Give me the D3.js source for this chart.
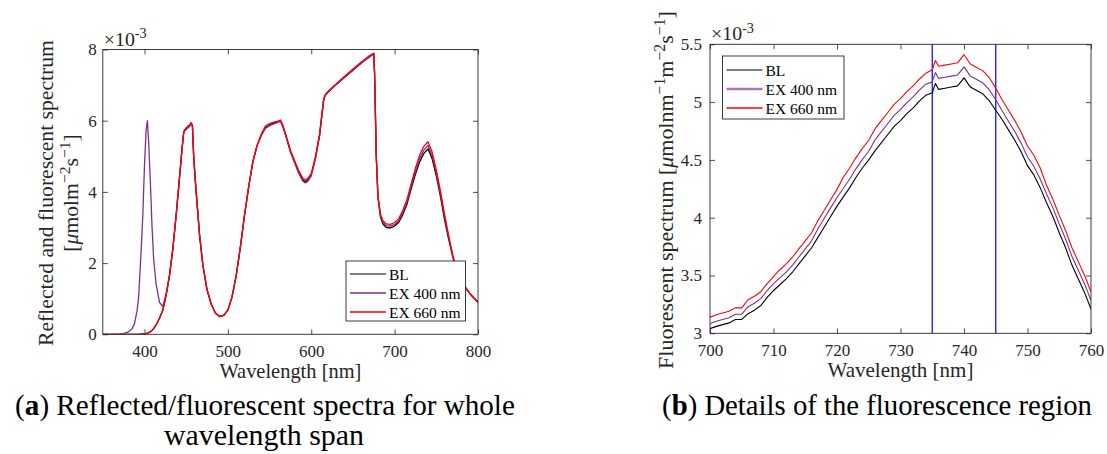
<!DOCTYPE html>
<html><head><meta charset="utf-8">
<script src="https://cdn.jsdelivr.net/npm/d3@7"></script>
<style>
body{margin:0;background:#fff}
svg{display:block}
text{font-family:"Liberation Serif","Times New Roman",serif}
</style>
</head><body>
<svg id="c" width="1107" height="454"></svg>
<script>
// ---------- DATA (values in units of 1e-3) ----------
const seriesNames = ["BL", "EX 400 nm", "EX 660 nm"];
const seriesColors = ["#000000", "#7E2F8E", "#FF0000"];

// Panel (a): whole wavelength span
const wlA = [
  350,360,370,375,380,385,388,391,393,396,
  398,400,402,403.5,405,407,409,411,414,418,
  422,426,430,434,438,442,445,447,448,450,
  452,454,456,457.5,459,461,463,466,470,475,
  480,485,490,495,500,505,510,515,520,525,
  530,535,540,545,550,555,560,563,566,570,
  575,580,585,590,593,596,600,605,610,613,
  615,617,620,630,640,650,660,670,675,676,
  678,680,683,686,690,695,700,705,710,715,
  720,725,730,735,740,745,750,755,760,765,
  770,775,778,782,786,790,795,800];
const blA = [
  0,0,0,0,0,0,0,0,0,0.005,
  0.008,0.01,0.02,0.03,0.045,0.07,0.11,0.16,0.27,0.45,
  0.68,1.1,1.65,2.4,3.35,4.4,5.2,5.66,5.72,5.76,
  5.8,5.85,5.92,5.85,5.0,4.3,3.7,2.8,1.95,1.25,
  0.85,0.6,0.5,0.53,0.68,1.05,1.65,2.45,3.35,4.15,
  4.85,5.3,5.6,5.8,5.88,5.93,5.97,6.0,5.85,5.55,
  5.15,4.85,4.55,4.33,4.28,4.33,4.48,4.95,5.6,6.2,
  6.6,6.72,6.8,7.02,7.22,7.42,7.62,7.8,7.88,7.3,
  5.0,3.85,3.3,3.1,3.0,2.99,3.04,3.15,3.37,3.67,
  4.10,4.50,4.84,5.08,5.21,4.93,4.45,3.87,3.21,2.65,
  2.15,1.72,1.52,1.4,1.27,1.15,1.02,0.9];
const ex400A = [
  0,0,0.005,0.02,0.06,0.15,0.3,0.65,1.05,2.35,
  3.35,4.75,5.75,6.0,5.4,4.3,3.05,2.1,1.4,0.9,
  0.78,1.15,1.67,2.4,3.35,4.4,5.2,5.66,5.72,5.76,
  5.8,5.85,5.92,5.85,5.0,4.3,3.7,2.8,1.95,1.25,
  0.85,0.6,0.5,0.53,0.68,1.05,1.65,2.45,3.35,4.15,
  4.85,5.3,5.58,5.78,5.86,5.91,5.95,5.98,5.83,5.53,
  5.12,4.82,4.52,4.3,4.25,4.3,4.45,4.93,5.58,6.2,
  6.6,6.72,6.8,7.02,7.22,7.42,7.62,7.8,7.88,7.3,
  5.0,3.87,3.33,3.14,3.05,3.04,3.085,3.19,3.43,3.73,
  4.175,4.575,4.935,5.175,5.305,5.02,4.525,3.945,3.285,2.7,
  2.18,1.74,1.53,1.41,1.28,1.15,1.02,0.9];
const ex660A = [
  0,0,0,0,0,0,0,0,0,0.005,
  0.008,0.01,0.02,0.03,0.045,0.07,0.11,0.16,0.27,0.45,
  0.68,1.1,1.65,2.4,3.35,4.4,5.2,5.66,5.74,5.8,
  5.85,5.88,5.95,5.88,5.0,4.3,3.7,2.8,1.95,1.25,
  0.85,0.6,0.5,0.53,0.68,1.05,1.65,2.45,3.35,4.15,
  4.85,5.3,5.62,5.85,5.92,5.96,5.99,6.02,5.87,5.57,
  5.17,4.88,4.6,4.38,4.33,4.38,4.52,4.98,5.62,6.25,
  6.62,6.74,6.82,7.04,7.25,7.45,7.65,7.83,7.9,7.3,
  5.0,3.9,3.38,3.19,3.1,3.09,3.14,3.25,3.49,3.80,
  4.245,4.67,5.03,5.28,5.41,5.12,4.62,4.02,3.36,2.75,
  2.2,1.76,1.55,1.42,1.29,1.16,1.02,0.9];

// Panel (b): fluorescence region detail
const wlB = [
  700,701,702,703,704,705,706,707,708,709,
  710,711,712,713,714,715,716,717,718,719,
  720,721,722,723,724,725,726,727,728,729,
  730,731,732,733,734,735,735.5,736,737,738,
  739,740,741,742,743,744,745,746,747,748,
  749,750,751,752,753,754,755,756,757,758,
  759,760];
const blB = [
  3.04,3.06,3.075,3.09,3.12,3.12,3.17,3.20,3.24,3.31,
  3.37,3.42,3.47,3.53,3.60,3.67,3.74,3.83,3.92,4.01,
  4.10,4.18,4.26,4.35,4.43,4.50,4.58,4.65,4.72,4.79,
  4.84,4.90,4.95,5.01,5.06,5.08,5.16,5.11,5.12,5.13,
  5.14,5.21,5.13,5.10,5.07,5.01,4.93,4.85,4.76,4.67,
  4.57,4.45,4.37,4.26,4.13,4.01,3.87,3.74,3.59,3.47,
  3.35,3.21];
const ex400B = [
  3.085,3.105,3.12,3.135,3.165,3.165,3.23,3.26,3.30,3.37,
  3.43,3.48,3.53,3.59,3.66,3.73,3.80,3.905,3.995,4.085,
  4.175,4.255,4.335,4.425,4.505,4.575,4.675,4.745,4.815,4.885,
  4.935,4.995,5.045,5.105,5.155,5.175,5.255,5.205,5.215,5.225,
  5.235,5.305,5.225,5.195,5.165,5.105,5.02,4.925,4.835,4.745,
  4.645,4.525,4.445,4.335,4.205,4.085,3.945,3.815,3.665,3.545,
  3.425,3.285];
const ex660B = [
  3.14,3.16,3.175,3.19,3.22,3.22,3.29,3.32,3.36,3.43,
  3.49,3.55,3.60,3.66,3.73,3.80,3.87,3.975,4.065,4.155,
  4.245,4.35,4.43,4.52,4.60,4.67,4.77,4.84,4.91,4.98,
  5.03,5.09,5.14,5.20,5.25,5.28,5.36,5.31,5.32,5.33,
  5.34,5.41,5.33,5.30,5.27,5.21,5.12,5.02,4.93,4.84,
  4.74,4.62,4.54,4.43,4.28,4.16,4.02,3.89,3.74,3.62,
  3.50,3.36];

const markerWl = [735, 745];

const xTicksA = [400, 500, 600, 700, 800];
const yTicksA = [0, 2, 4, 6, 8];
const xTicksB = [700, 710, 720, 730, 740, 750, 760];
const yTicksB = [3, 3.5, 4, 4.5, 5, 5.5];
const yTickLabelsB = ["3", "3.5", "4", "4.5", "5", "5.5"];

// ---------- DRAWING ----------
const svg = d3.select("#c");
const AX = "#262626";

function richText(sel, parts, size) {
  let shifted = false;
  parts.forEach(([t, k]) => {
    const ts = sel.append("tspan").text(t);
    if (k === "sup") {
      ts.attr("font-size", size * 0.72).attr("dy", shifted ? 0 : -size * 0.38);
      shifted = true;
    } else {
      if (shifted) { ts.attr("dy", size * 0.38); shifted = false; }
      if (k === "it") ts.attr("font-style", "italic");
      if (k === "b") ts.attr("font-weight", "bold");
    }
  });
}

function build(parent, parts, attrs, s, fill) {
  const t = parent.append("text").attr("fill", fill || AX).attr("font-size", s);
  Object.entries(attrs).forEach(([k, v]) => t.attr(k, v));
  richText(t, parts, s);
  return t;
}
function fitted(parent, parts, attrs, targetLen, fill) {
  const base = 20;
  const probe = build(parent, parts, attrs, base, fill);
  const w = probe.node().getComputedTextLength();
  probe.remove();
  const s = base * targetLen / w;
  return build(parent, parts, attrs, s, fill).datum(s);
}

function panel(cfg) {
  const x = d3.scaleLinear().domain(cfg.xDom).range([cfg.x0, cfg.x1]);
  const y = d3.scaleLinear().domain(cfg.yDom).range([cfg.y0, cfg.y1]);
  const g = svg.append("g");
  const id = "clip" + cfg.key;
  svg.append("clipPath").attr("id", id).append("rect")
    .attr("x", cfg.x0).attr("y", cfg.y1).attr("width", cfg.x1 - cfg.x0).attr("height", cfg.y0 - cfg.y1);

  const fs = 17;
  const styleAxis = (a) => {
    a.select(".domain").remove();
    a.selectAll(".tick line").attr("stroke", AX).attr("stroke-width", 0.8);
    a.selectAll(".tick text").attr("fill", AX).attr("font-size", fs)
      .attr("font-family", '"Liberation Serif",serif');
  };
  g.append("g").attr("transform", `translate(0,${cfg.y0})`)
    .call(d3.axisBottom(x).tickValues(cfg.xTicks).tickSize(-5).tickPadding(11).tickFormat(d3.format("d")))
    .call(styleAxis);
  g.append("g").attr("transform", `translate(0,${cfg.y1})`)
    .call(d3.axisTop(x).tickValues(cfg.xTicks).tickSize(-5).tickFormat(""))
    .call(styleAxis);
  g.append("g").attr("transform", `translate(${cfg.x0},0)`)
    .call(d3.axisLeft(y).tickValues(cfg.yTicks).tickSize(-5).tickPadding(cfg.yPad)
      .tickFormat((d, i) => cfg.yLabels[i]))
    .call(styleAxis);
  g.append("g").attr("transform", `translate(${cfg.x1},0)`)
    .call(d3.axisRight(y).tickValues(cfg.yTicks).tickSize(-5).tickFormat(""))
    .call(styleAxis);

  (cfg.markers || []).forEach(m => {
    g.append("line").attr("x1", x(m)).attr("x2", x(m)).attr("y1", cfg.y0).attr("y2", cfg.y1)
      .attr("stroke", "#0000FF").attr("stroke-width", 1.2);
  });

  const lg = g.append("g").attr("clip-path", `url(#${id})`);
  cfg.series.forEach((vals, i) => {
    const line = d3.line().x((d, j) => x(cfg.wl[j])).y(d => y(d));
    lg.append("path").datum(vals).attr("d", line).attr("fill", "none")
      .attr("stroke", seriesColors[i]).attr("stroke-width", cfg.lw).attr("stroke-linejoin", "round");
  });

  g.append("rect").attr("x", cfg.x0).attr("y", cfg.y1).attr("width", cfg.x1 - cfg.x0)
    .attr("height", cfg.y0 - cfg.y1).attr("fill", "none").attr("stroke", AX).attr("stroke-width", 0.9);

  fitted(g, [["\u00D710", ""], ["-3", "sup"]], {x: cfg.x0 + 1, y: cfg.y1 - 4}, 43);

  fitted(g, [["Wavelength [nm]", ""]],
    {x: (cfg.x0 + cfg.x1) / 2, y: cfg.y0 + 44, "text-anchor": "middle"}, cfg.xLabLen);

  const L = cfg.legend;
  const leg = g.append("g");
  leg.append("rect").attr("x", L.x).attr("y", L.y).attr("width", L.w).attr("height", L.h)
    .attr("fill", "#fff").attr("stroke", AX).attr("stroke-width", 0.9);
  seriesNames.forEach((n, i) => {
    const yy = L.y + L.r0 + i * L.dr;
    leg.append("line").attr("x1", L.x + 4).attr("x2", L.x + 40).attr("y1", yy).attr("y2", yy)
      .attr("stroke", seriesColors[i]).attr("stroke-width", L.lw[i]).attr("stroke-opacity", L.op[i]);
    leg.append("text").attr("x", L.x + 43).attr("y", yy + 5.5).attr("font-size", 15.5).attr("fill", "#000").text(n);
  });
  return {x, y, g};
}

panel({
  key: "a", xDom: [350, 800], yDom: [0, 8], x0: 102.8, x1: 478, y0: 334.3, y1: 49.5,
  xTicks: xTicksA, yTicks: yTicksA, yLabels: yTicksA.map(String), yPad: 6, xLabLen: 142,
  wl: wlA, series: [blA, ex400A, ex660A], lw: 1.3,
  legend: {x: 346, y: 261, w: 119.5, h: 60, r0: 13, dr: 19, lw: [1.1, 1.3, 1.4], op: [1, 1, 1]}
});
panel({
  key: "b", xDom: [700, 760], yDom: [3, 5.5], x0: 710, x1: 1091, y0: 333.3, y1: 44.3,
  xTicks: xTicksB, yTicks: yTicksB, yLabels: yTickLabelsB, yPad: 8, xLabLen: 146,
  wl: wlB, series: [blB, ex400B, ex660B], lw: 1.1, markers: markerWl,
  legend: {x: 722.5, y: 56, w: 121.5, h: 63, r0: 14, dr: 19, lw: [1.1, 2.6, 1.3], op: [1, 0.65, 1]}
});

// y labels
const yl1 = fitted(svg, [["Reflected and fluorescent spectrum", ""]],
  {transform: "translate(53,193) rotate(-90)", "text-anchor": "middle"}, 306);
const ys = yl1.datum();
build(svg, [["[", ""], ["\u03BC", "it"], ["molm", ""], ["\u22122", "sup"], ["s", ""], ["\u22121", "sup"], ["]", ""]],
  {transform: "translate(78,193) rotate(-90)", "text-anchor": "middle"}, ys);
fitted(svg, [["Fluorescent spectrum [", ""], ["\u03BC", "it"], ["molnm", ""], ["\u22121", "sup"], ["m", ""], ["\u22122", "sup"], ["s", ""], ["\u22121", "sup"], ["]", ""]],
  {transform: "translate(673,190) rotate(-90)", "text-anchor": "middle"}, 358);

// captions
fitted(svg, [["(", ""], ["a", "b"], [") Reflected/fluorescent spectra for whole", ""]],
  {x: 265, y: 415, "text-anchor": "middle"}, 500, "#000");
fitted(svg, [["wavelength span", ""]], {x: 264, y: 445, "text-anchor": "middle"}, 200, "#000");
fitted(svg, [["(", ""], ["b", "b"], [") Details of the fluorescence region", ""]],
  {x: 877, y: 415, "text-anchor": "middle"}, 430, "#000");
</script>
</body></html>
